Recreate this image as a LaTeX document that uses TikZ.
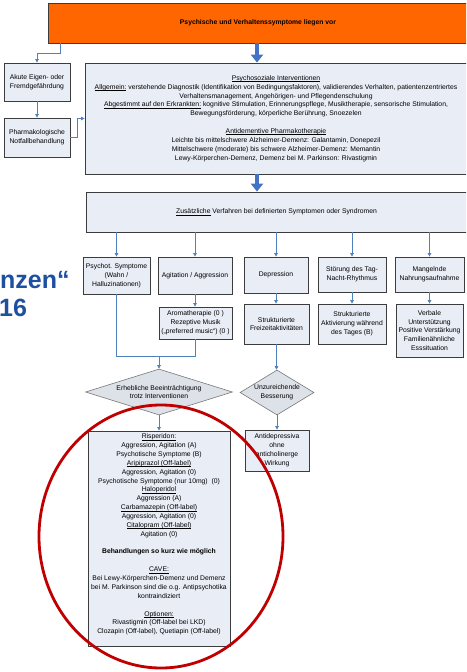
\documentclass[tikz,border=0pt]{standalone}
\usepackage{fontspec}
\setmainfont{Liberation Sans}
\usetikzlibrary{arrows.meta,shapes.geometric,calc}
\definecolor{orangebox}{RGB}{255,102,0}
\definecolor{boxfill}{RGB}{232,237,246}
\definecolor{boxline}{RGB}{60,60,60}
\definecolor{diafill}{RGB}{221,226,233}
\definecolor{diaborder}{RGB}{120,120,120}
\definecolor{connblue}{RGB}{79,129,189}
\definecolor{bigblue}{RGB}{68,114,196}
\definecolor{ringred}{RGB}{192,0,0}
\definecolor{slideblue}{RGB}{30,80,160}
\newcommand\diagfont{\fontsize{6.8}{8.86}\selectfont}
\newcommand\ulx[1]{\setbox0\hbox{#1}\rlap{\rule[-1.3pt]{\wd0}{0.45pt}}\box0\relax}
\begin{document}
\begin{tikzpicture}[x=1pt,y=-1pt,
  box/.style={draw=boxline, fill=boxfill, line width=0.8pt, align=center, inner sep=1pt, font=\diagfont},
  txt/.style={align=center, inner sep=0pt, font=\diagfont},
  dia/.style={diamond, draw=diaborder, fill=diafill, line width=0.6pt, align=center, inner sep=0pt, font=\diagfont},
  conn/.style={draw=connblue, line width=0.8pt, -{Triangle[length=3.5pt,width=3.5pt]}},
  connline/.style={draw=connblue, line width=0.8pt},
  bigarrow/.style={draw=bigblue, line width=4pt, -{Triangle[length=8pt,width=12pt]}},
  ring/.style={draw=ringred, line width=2.8pt},
  bgtext/.style={font=\fontsize{25}{27}\selectfont\bfseries, text=slideblue, inner sep=0pt, anchor=base west}
]
\useasboundingbox (0,0) rectangle (466,672);
\clip (0,0) rectangle (466,672);
\fill[white] (0,0) rectangle (466,672);

% background slide text
\node[bgtext] (bgA) at (0,288) {nzen“};
\node[bgtext] (bgB) at (-1,316) {16};

% top
\node[box, fill=orangebox, minimum width=420pt, minimum height=40pt, font=\diagfont\bfseries] (top) at (258,23) {Psychische und Verhaltenssymptome liegen vor};

% left column
\node[box, minimum width=66pt, minimum height=38pt] (akute) at (37,82) {Akute Eigen- oder\\Fremdgefährdung};
\node[box, minimum width=66pt, minimum height=39pt] (pharm) at (37,137.5) {Pharmakologische\\Notfallbehandlung};

% psychosocial
\node[box, minimum width=382pt, minimum height=111pt] (psycho) at (276,118.5) {\ulx{Psychosoziale Interventionen}\\
\ulx{Allgemein:} verstehende Diagnostik (Identifikation von Bedingungsfaktoren), validierendes Verhalten, patientenzentriertes\\
Verhaltensmanagement, Angehörigen- und Pflegendenschulung\\
\ulx{Abgestimmt auf den Erkrankten:} kognitive Stimulation, Erinnerungspflege, Musiktherapie, sensorische Stimulation,\\
Bewegungsförderung, körperliche Berührung, Snoezelen\\[8.86pt]
\ulx{Antidementive Pharmakotherapie}\\
Leichte bis mittelschwere Alzheimer-Demenz: Galantamin, Donepezil\\
Mittelschwere (moderate) bis schwere Alzheimer-Demenz: Memantin\\
Lewy-Körperchen-Demenz, Demenz bei M. Parkinson: Rivastigmin};

% additional
\node[box, minimum width=381pt, minimum height=40pt] (zus) at (276.5,212) {\ulx{Zusätzliche} Verfahren bei definierten Symptomen oder Syndromen};

% symptom boxes
\node[box, minimum width=67pt, minimum height=37pt] (c1) at (116.5,275.5) {Psychot. Symptome\\(Wahn /\\Halluzinationen)};
\node[box, minimum width=74pt, minimum height=37pt] (c2) at (195,275.5) {Agitation / Aggression};
\node[box, minimum width=64pt, minimum height=36pt] (c3) at (276,275) {Depression};
\node[box, minimum width=68pt, minimum height=35pt] (c4) at (352,274.5) {Störung des Tag-\\Nacht-Rhythmus};
\node[box, minimum width=69pt, minimum height=35pt] (c5) at (429.5,274.5) {Mangelnde\\Nahrungsaufnahme};

% second row
\node[box, minimum width=73pt, minimum height=32pt] (aroma) at (195.5,323) {Aromatherapie (0 )\\Rezeptive Musik\\(„preferred music“) (0 )};
\node[box, minimum width=65pt, minimum height=40pt] (freizeit) at (276.5,324) {Strukturierte\\Freizeitaktivitäten};
\node[box, minimum width=68pt, minimum height=40pt] (aktiv) at (352,324) {Strukturierte\\Aktivierung während\\des Tages (B)};
\node[box, minimum width=67pt, minimum height=53pt] (verbal) at (429.5,330.5) {Verbale\\Unterstützung\\Positive Verstärkung\\Familienähnliche\\Esssituation};

% diamonds
\node[dia, aspect=3.2, minimum width=147pt, minimum height=46pt] (d1) at (159,392) {Erhebliche Beeinträchtigung\\trotz Interventionen};
\node[dia, aspect=1.64, minimum width=74pt, minimum height=45pt] (d2) at (277,392.5) {Unzureichende\\Besserung};

% results
\node[box, minimum width=142pt, minimum height=215pt] (big) at (159,538.5) {};
\node[txt] (bigtxt) at (159,534.5) {\ulx{Risperidon:}\\
Aggression, Agitation (A)\\
Psychotische Symptome (B)\\
\ulx{Aripiprazol (Off-label)}\\
Aggression, Agitation (0)\\
Psychotische Symptome (nur 10mg)\ \ (0)\\
\ulx{Haloperidol}\\
Aggression (A)\\
\ulx{Carbamazepin (Off-label)}\\
Aggression, Agitation (0)\\
\ulx{Citalopram (Off-label)}\\
Agitation (0)\\[8.86pt]
\textbf{Behandlungen so kurz wie möglich}\\[8.86pt]
\ulx{CAVE:}\\
Bei Lewy-Körperchen-Demenz und Demenz\\
bei M. Parkinson sind die o.g. Antipsychotika\\
kontraindiziert\\[8.86pt]
\ulx{Optionen:}\\
Rivastigmin (Off-label bei LKD)\\
Clozapin (Off-label), Quetiapin (Off-label)};
\node[box, minimum width=64pt, minimum height=41pt] (anti) at (277,450.5) {Antidepressiva\\ohne\\anticholinerge\\Wirkung};

% connectors
\coordinate (ax) at (257,0);
\draw[bigarrow] (top.south -| ax) -- (psycho.north -| ax);
\draw[bigarrow] (psycho.south -| ax) -- (zus.north -| ax);
\draw[conn] ([xshift=13pt]top.south west) -- ++(0,10) -| (akute.north);
\draw[conn] (akute.south) -- (pharm.north);
\draw[conn] (pharm.east) -- ++(7,0) |- (psycho.west);
\foreach \c in {c1,c2,c3,c4,c5} {
  \draw[conn] (zus.south -| \c.north) -- (\c.north);
}
\draw[conn] (c2.south) -- (c2.south |- aroma.north);
\draw[conn] (c3.south) -- (c3.south |- freizeit.north);
\draw[conn] (c4.south) -- (c4.south |- aktiv.north);
\draw[conn] (c5.south) -- (c5.south |- verbal.north);
\coordinate (j1) at ($(d1.north)+(0,-12)$);
\draw[connline] (c1.south) |- (j1);
\draw[connline] (aroma.south) |- (j1);
\draw[conn] (j1) -- (d1.north);
\draw[conn] (freizeit.south) -- (freizeit.south |- d2.north);
\draw[conn] (d1.south) -- (big.north);
\draw[conn] (d2.south) -- (anti.north);

% red ring
\draw[ring] (161,536.5) ellipse [x radius=122pt, y radius=131.5pt];
\end{tikzpicture}
\end{document}
